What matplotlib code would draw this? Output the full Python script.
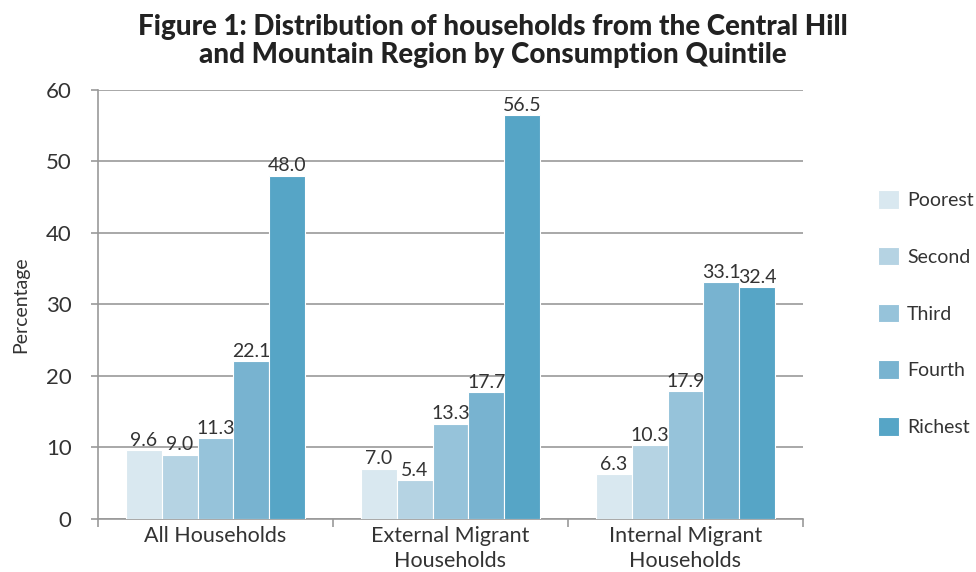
import numpy as np
import matplotlib.pyplot as plt

# Data
groups = ['All Households', 'External Migrant\nHouseholds', 'Internal Migrant\nHouseholds']
quintiles = ['Poorest', 'Second', 'Third', 'Fourth', 'Richest']
poorest = [9.6, 7.0, 6.3]
second = [9.0, 5.4, 10.3]
third = [11.3, 13.3, 17.9]
fourth = [22.1, 17.7, 33.1]
richest = [48.0, 56.5, 32.4]
colors = ['#d9e8f0', '#b5d3e3', '#96c3da', '#78b3d0', '#56a5c6']

plt.rcParams['font.family'] = ['Lato', 'DejaVu Sans']

fig = plt.figure(figsize=(9.76, 5.72), dpi=100)
ax = fig.add_axes([0.1004, 0.0927, 0.7223, 0.75])

x = np.arange(len(groups))
width = 0.152
series = [poorest, second, third, fourth, richest]
for i, (vals, name) in enumerate(zip(series, quintiles)):
    pos = x + (i - 2) * width
    bars = ax.bar(pos, vals, width, color=colors[i], label=name,
                  edgecolor='white', linewidth=0.8, zorder=3)
    for b, v in zip(bars, vals):
        ax.text(b.get_x() + b.get_width() / 2, v + 0.2, f'{v:.1f}',
                ha='center', va='bottom', fontsize=14, color='#333333', zorder=4)

ax.set_xlim(-0.5, 2.5)
ax.set_ylim(0, 60)
ax.set_yticks(range(0, 61, 10))
ax.yaxis.grid(True, color='#999999', linewidth=1.2, zorder=0)
ax.set_axisbelow(True)

ax.set_xticks(x)
ax.set_xticklabels(groups, fontsize=15.5, color='#333333', linespacing=1.3)
ax.tick_params(axis='x', length=0, pad=5)
ax.set_xticks([-0.5, 0.5, 1.5, 2.5], minor=True)
ax.tick_params(axis='x', which='minor', length=6, color='#999999', width=1.2)
ax.tick_params(axis='y', labelsize=16, colors='#333333', length=5, color='#999999', width=1.2, pad=14)

for s in ['top', 'right']:
    ax.spines[s].set_visible(False)
for s in ['left', 'bottom']:
    ax.spines[s].set_color('#999999')
    ax.spines[s].set_linewidth(1.2)

ax.set_ylabel('Percentage', fontsize=14, color='#333333', labelpad=12)

fig.suptitle('Figure 1: Distribution of households from the Central Hill\nand Mountain Region by Consumption Quintile',
             fontsize=20, fontweight='black', color='#222222', x=0.505, y=0.975, linespacing=1.1)

leg = ax.legend(loc='center left', bbox_to_anchor=(1.095, 0.48), frameon=False,
                fontsize=14, handlelength=1.1, handleheight=1.1,
                labelspacing=1.95, handletextpad=0.4, borderaxespad=0)
for t in leg.get_texts():
    t.set_color('#333333')

fig.savefig('out.png', dpi=100)
